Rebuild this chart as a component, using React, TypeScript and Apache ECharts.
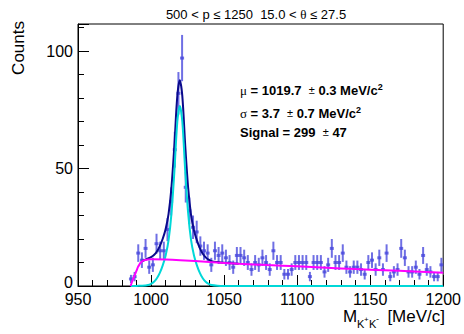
import React, { useEffect, useRef } from 'react';
import * as echarts from 'echarts';

// Histogram: 2.5 MeV bins, first filled bin starts at 985 MeV
const histStart = 985;
const binWidth = 2.5;
const counts = [
  3, 4, 14, 11, 16, 8, 9, 18, 15, 15,
  24, 36, 58, 82, 97, 42, 32, 25, 23, 17,
  15, 14, 9, 15, 13, 14, 12, 10, 8, 13,
  13, 12, 10, 7, 10, 9, 12, 10, 7, 15,
  10, 10, 5, 5, 7, 10, 10, 10, 10, 4,
  10, 10, 10, 6, 9, 16, 10, 10, 14, 8,
  6, 8, 8, 7, 5, 10, 11, 7, 12, 7,
  14, 4, 6, 7, 16, 12, 6, 6, 8, 5,
  13, 7, 6, 4, 4, 9,
];

// Signal (cyan) curve
const sigX = [986, 990, 994, 998, 1000, 1002, 1004, 1006, 1008, 1010, 1012, 1014, 1016, 1018, 1019.7,
  1021.4, 1023.4, 1025.4, 1027.4, 1029.4, 1031.4, 1033.4, 1035.4, 1037.4, 1039.4, 1041.4, 1045.4, 1050, 1200];
const sigY = [0, 0.05, 0.1, 0.4, 0.9, 1.8, 3.3, 5.6, 8.8, 13, 19.5, 31, 49, 70, 76.6,
  70, 49, 31, 19.5, 13, 8.8, 5.6, 3.3, 1.8, 0.9, 0.4, 0.1, 0, 0];

// Background (magenta) curve
const bgX = [986, 987, 988, 989, 990, 991, 992, 993, 994, 995, 996, 998, 1000, 1010, 1020, 1040, 1060,
  1080, 1100, 1120, 1140, 1160, 1180, 1200];
const bgY = [0, 1.8, 3.4, 4.9, 6.4, 8.0, 9.1, 10.0, 10.5, 10.9, 11.1, 11.3, 11.4, 11.3, 11.0, 10.2, 9.5,
  8.9, 8.4, 7.8, 7.2, 6.7, 6.2, 5.6];

// Total fit (navy) curve
const totX = [994, 998, 1000, 1002, 1004, 1006, 1008, 1010, 1012, 1014, 1016, 1018, 1019.7,
  1021.4, 1023.4, 1025.4, 1027.4, 1029.4, 1031.4, 1033.4, 1035.4, 1037.4, 1039.4, 1041.4, 1045.4, 1050, 1060];
const totY = [10.6, 11.7, 12.3, 13.2, 14.7, 17, 20.1, 24.3, 30.7, 42.1, 60.1, 81, 87.6,
  80.9, 59.8, 41.8, 30.2, 23.6, 19.4, 16.1, 13.7, 12.2, 11.2, 10.6, 10.2, 9.9, 9.5];

const xMin = 950, xMax = 1200;
const yMin = 0, yMax = 111.5;

const FONT = 'Liberation Sans, Arial, Helvetica, sans-serif';
const SERIF = 'Liberation Serif, DejaVu Serif, serif';
const PT = 'rgba(70,70,220,0.78)';

export default function App() {
  const ref = useRef<HTMLDivElement>(null);
  useEffect(() => {
    if (!ref.current) return;
    const chart = echarts.init(ref.current, undefined, { renderer: 'svg' });
    const pts = counts.map((c, i) => [histStart + binWidth * (i + 0.5), c]);
    const zip = (xs: number[], ys: number[]) => xs.map((x, i) => [x, ys[i]]);
    const baseAxis = {
      type: 'value', min: xMin, max: xMax,
    };
    chart.setOption({
      animation: false,
      grid: { left: 78, top: 24, width: 367, height: 262, show: true, borderColor: '#000', borderWidth: 1, backgroundColor: 'transparent' },
      xAxis: [
        {
          ...baseAxis, interval: 10, position: 'bottom', z: 0,
          axisLine: { lineStyle: { color: '#000', width: 1 } },
          axisTick: { inside: true, length: 6, lineStyle: { color: '#000' } },
          axisLabel: { margin: 7, fontSize: 16, lineHeight: 12, color: '#000', fontFamily: FONT, formatter: (v: number) => (v % 50 === 0 ? String(v) : '') },
          splitLine: { show: false },
        },
        {
          ...baseAxis, interval: 50, position: 'bottom', z: 0,
          axisLine: { show: false },
          axisTick: { inside: true, length: 11, lineStyle: { color: '#000' } },
          axisLabel: { show: false },
          splitLine: { show: false },
        },
      ],
      yAxis: [
        {
          type: 'value', min: yMin, max: yMax, interval: 10, position: 'left',
          axisLine: { show: true, lineStyle: { color: '#000', width: 1 } },
          axisTick: { show: true, inside: true, length: 6, lineStyle: { color: '#000' } },
          axisLabel: {
            margin: 5, fontSize: 16, lineHeight: 11, color: '#000', fontFamily: FONT, showMaxLabel: false,
            formatter: (v: number) => (v === 0 ? '{z|0}' : v % 50 === 0 ? String(v) : ''),
            rich: { z: { fontSize: 16, lineHeight: 11, fontFamily: FONT, color: '#000', padding: [0, 0, 8, 0] } },
          },
          splitLine: { show: false },
        },
        {
          type: 'value', min: yMin, max: yMax, interval: 50, position: 'left',
          axisLine: { show: false },
          axisTick: { show: true, inside: true, length: 11, lineStyle: { color: '#000' } },
          axisLabel: { show: false },
          splitLine: { show: false },
        },
      ],
      series: [
        {
          type: 'custom', xAxisIndex: 0, yAxisIndex: 0, z: 2, clip: true,
          data: pts,
          renderItem: (params: any, api: any) => {
            const x = api.value(0), y = api.value(1);
            const e = Math.sqrt(y);
            const p = api.coord([x, y]);
            const t = api.coord([x, y + e]);
            const b = api.coord([x, Math.max(0, y - e)]);
            return {
              type: 'group',
              children: [
                { type: 'line', shape: { x1: p[0], y1: t[1], x2: p[0], y2: b[1] }, style: { stroke: PT, lineWidth: 2 } },
                { type: 'rect', shape: { x: p[0] - 2, y: p[1] - 1.5, width: 4, height: 3 }, style: { fill: PT } },
              ],
            };
          },
        },
        {
          type: 'line', data: zip(totX, totY), showSymbol: false, smooth: 0.3, z: 3,
          lineStyle: { color: '#0a0a8c', width: 2 },
        },
        {
          type: 'line', data: zip(sigX, sigY), showSymbol: false, smooth: 0.3, z: 5, clip: false,
          lineStyle: { color: '#00d8d8', width: 2 },
        },
        {
          type: 'line', data: zip(bgX, bgY), showSymbol: false, smooth: 0.3, z: 6,
          lineStyle: { color: '#ff00ff', width: 2 },
        },
      ],
      graphic: [
        {
          type: 'text', x: 256, y: 14,
          style: {
            text: '{a|500 < p ≤ 1250  15.0 < }{g|θ}{a| ≤ 27.5}',
            align: 'center', verticalAlign: 'middle',
            rich: {
              a: { fontSize: 13, fontFamily: FONT, fill: '#000' },
              g: { fontSize: 13, fontFamily: SERIF, fill: '#000' },
            },
          },
        },
        {
          type: 'text', x: 18, y: 21, rotation: Math.PI / 2,
          style: { text: 'Counts', fontSize: 17, fontFamily: FONT, fill: '#000', align: 'right', verticalAlign: 'middle' },
        },
        { type: 'text', x: 343, y: 316, style: { text: 'M', fontSize: 17, fontFamily: FONT, fill: '#000', align: 'left', verticalAlign: 'middle' } },
        { type: 'text', x: 357, y: 324, style: { text: 'K', fontSize: 11, fontFamily: FONT, fill: '#000', align: 'left', verticalAlign: 'middle' } },
        { type: 'text', x: 364, y: 319, style: { text: '+', fontSize: 8, fontFamily: FONT, fill: '#000', align: 'left', verticalAlign: 'middle' } },
        { type: 'text', x: 369, y: 324, style: { text: 'K', fontSize: 11, fontFamily: FONT, fill: '#000', align: 'left', verticalAlign: 'middle' } },
        { type: 'text', x: 376, y: 319, style: { text: '-', fontSize: 9, fontFamily: FONT, fill: '#000', align: 'left', verticalAlign: 'middle' } },
        { type: 'text', x: 445, y: 316, style: { text: '[MeV/c]', fontSize: 17, fontFamily: FONT, fill: '#000', align: 'right', verticalAlign: 'middle' } },
        {
          type: 'text', x: 240, y: 90,
          style: {
            text: '{g|μ}{b| = 1019.7  }{p|±}{b| 0.3 MeV/c}{s|2}',
            align: 'left', verticalAlign: 'middle',
            rich: {
              g: { fontSize: 13, fontFamily: SERIF, fill: '#000' },
              b: { fontSize: 13, fontFamily: FONT, fontWeight: 'bold', fill: '#000' },
              p: { fontSize: 11, fontFamily: FONT, fill: '#000' },
              s: { fontSize: 9, fontFamily: FONT, fontWeight: 'bold', fill: '#000', verticalAlign: 'top', padding: [0, 0, 6, 0] },
            },
          },
        },
        {
          type: 'text', x: 240, y: 113,
          style: {
            text: '{g|σ}{b| = 3.7  }{p|±}{b| 0.7 MeV/c}{s|2}',
            align: 'left', verticalAlign: 'middle',
            rich: {
              g: { fontSize: 13, fontFamily: SERIF, fill: '#000' },
              b: { fontSize: 13, fontFamily: FONT, fontWeight: 'bold', fill: '#000' },
              p: { fontSize: 11, fontFamily: FONT, fill: '#000' },
              s: { fontSize: 9, fontFamily: FONT, fontWeight: 'bold', fill: '#000', verticalAlign: 'top', padding: [0, 0, 6, 0] },
            },
          },
        },
        {
          type: 'text', x: 240, y: 132,
          style: {
            text: '{b|Signal = 299  }{p|±}{b| 47}',
            align: 'left', verticalAlign: 'middle',
            rich: {
              b: { fontSize: 13, fontFamily: FONT, fontWeight: 'bold', fill: '#000' },
              p: { fontSize: 11, fontFamily: FONT, fill: '#000' },
            },
          },
        },
      ],
    });
    return () => chart.dispose();
  }, []);
  return <div ref={ref} style={{ width: 464, height: 334, position: 'absolute', left: 0, top: 0 }} />;
}
